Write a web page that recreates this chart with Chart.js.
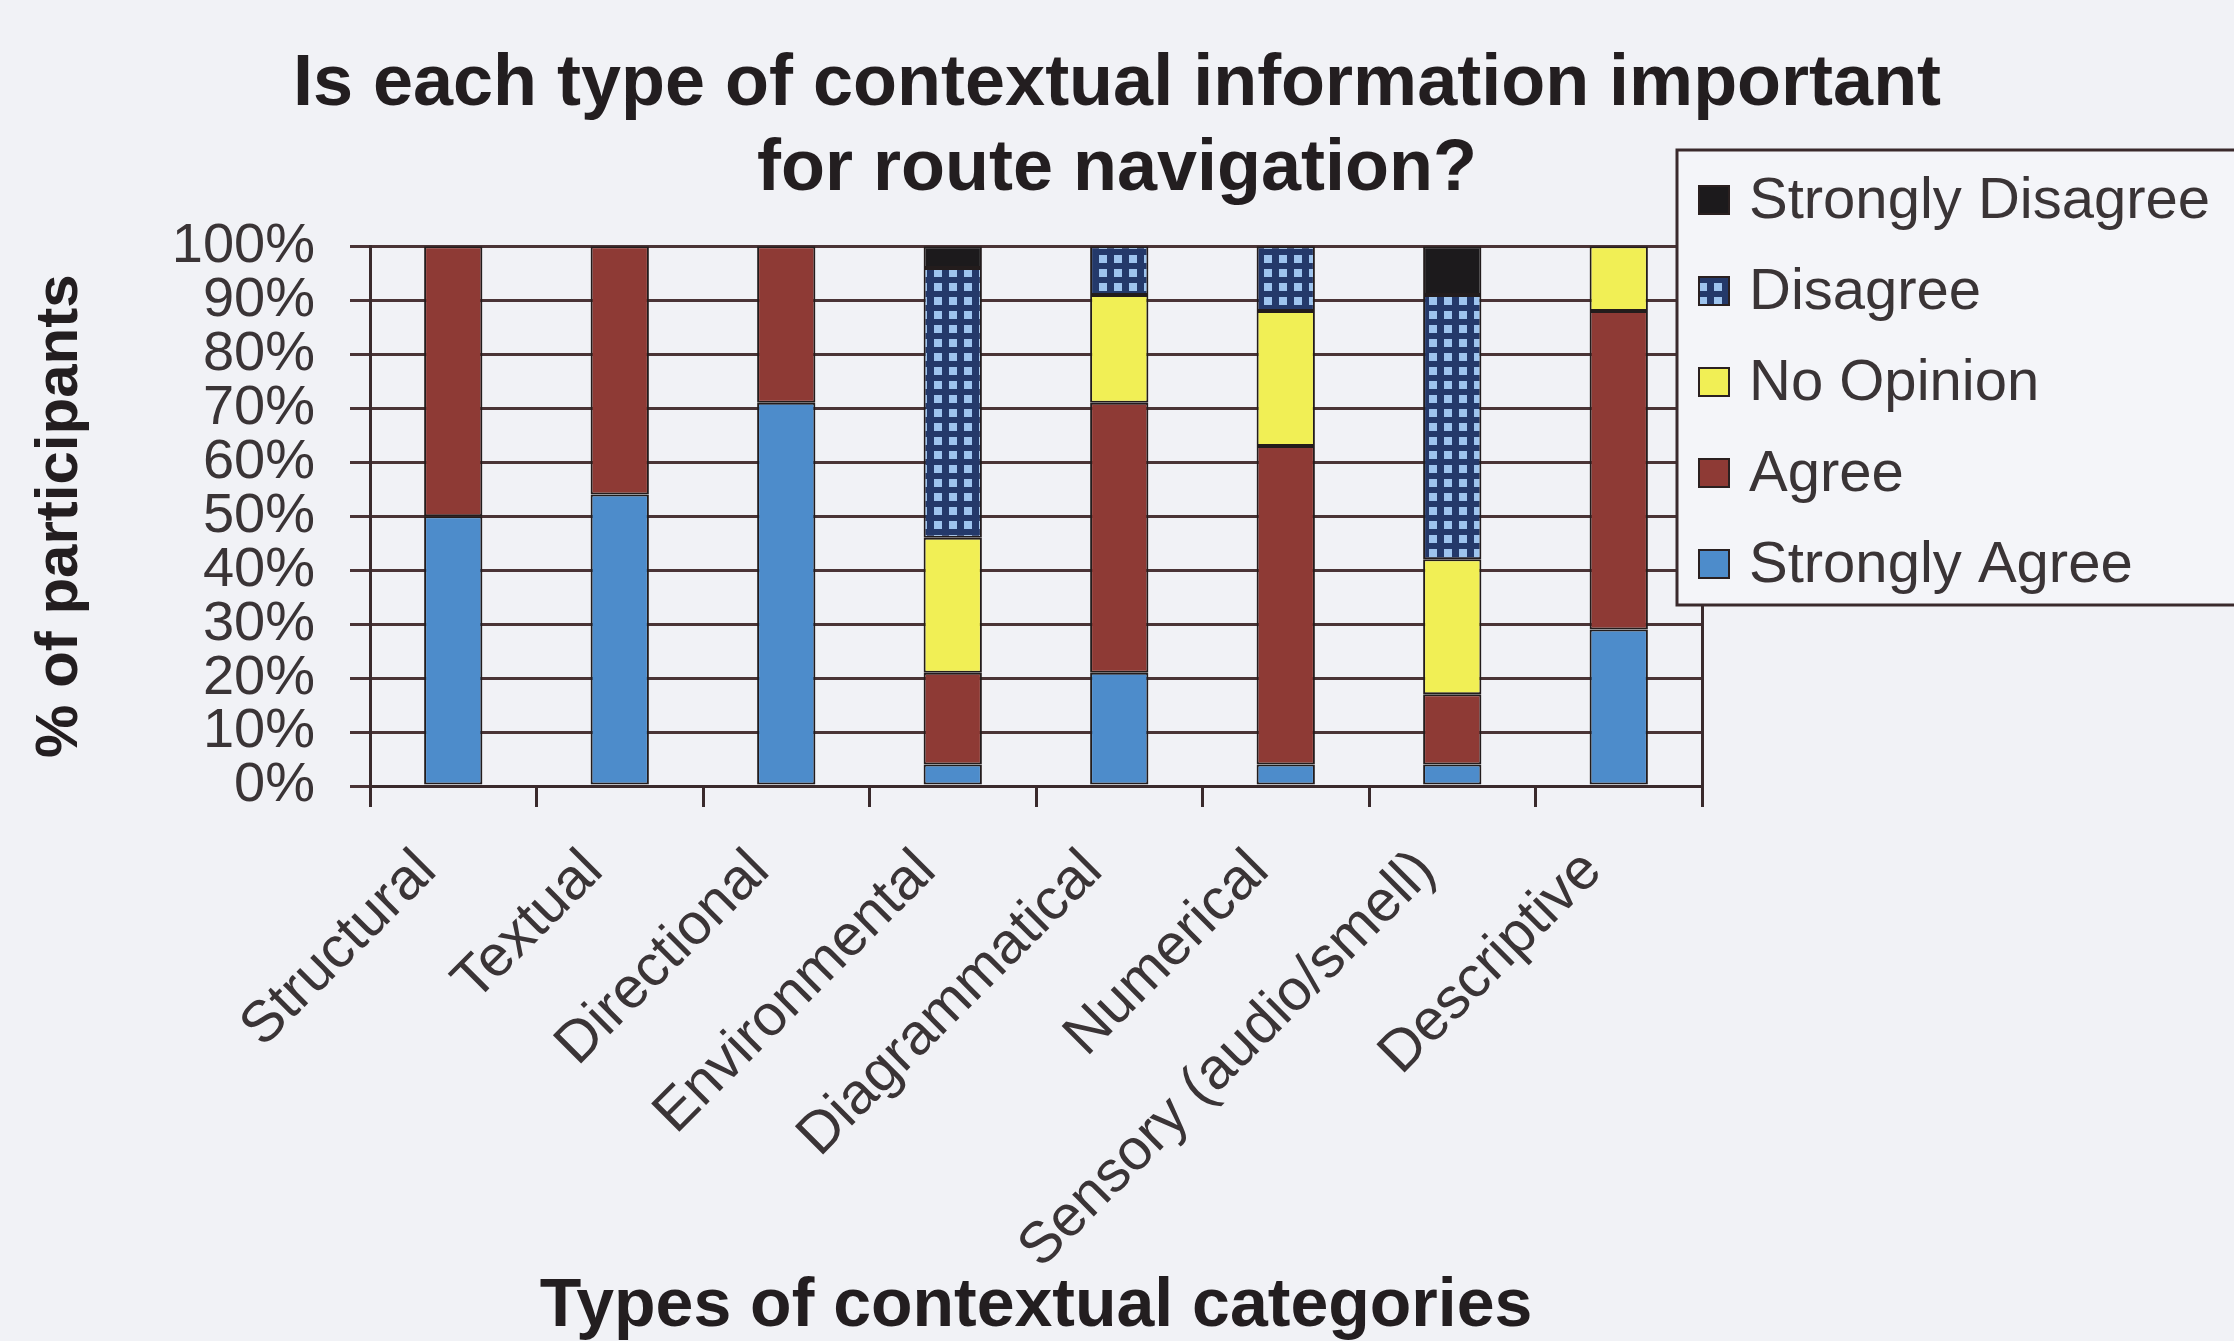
<!DOCTYPE html>
<html>
<head>
<meta charset="utf-8">
<script src="https://cdn.jsdelivr.net/npm/chart.js@4/dist/chart.umd.min.js"></script>
<style>
    html, body { margin: 0; padding: 0; background: #f1f2f6; }
    #wrap { width: 2234px; height: 1341px; }
</style>
</head>
<body>
<div id="wrap"><canvas id="surveyChart" width="2234" height="1341"></canvas></div>
<script>
// Categories on the x axis
const categories = ["Structural", "Textual", "Directional", "Environmental",
    "Diagrammatical", "Numerical", "Sensory (audio/smell)", "Descriptive"];

// Percent of participants per answer (bottom to top of each stack)
const stronglyAgree    = [50, 54, 71, 4, 21, 4, 4, 29];
const agree            = [50, 46, 29, 17, 50, 59, 13, 59];
const noOpinion        = [0, 0, 0, 25, 20, 25, 25, 12];
const disagree         = [0, 0, 0, 50, 9, 12, 49, 0];
const stronglyDisagree = [0, 0, 0, 4, 0, 0, 9, 0];

const yTicks = [0, 10, 20, 30, 40, 50, 60, 70, 80, 90, 100];

const FONT = "'Liberation Sans', Arial, sans-serif";

// Checkered blue fill used by "Disagree"
function makeGridPattern() {
    const c = document.createElement("canvas");
    c.width = 15;
    c.height = 14;
    const g = c.getContext("2d");
    g.fillStyle = "#24396a";
    g.fillRect(0, 0, 15, 14);
    g.fillStyle = "#9ec4ee";
    g.fillRect(4, 3, 8, 8);
    return document.getElementById("surveyChart").getContext("2d").createPattern(c, "repeat");
}
const disagreeFill = makeGridPattern();

const series = [
    { label: "Strongly Agree", data: stronglyAgree, color: "#4d8ccb" },
    { label: "Agree", data: agree, color: "#8e3a35" },
    { label: "No Opinion", data: noOpinion, color: "#f1ef55" },
    { label: "Disagree", data: disagree, color: disagreeFill },
    { label: "Strongly Disagree", data: stronglyDisagree, color: "#1c1a1c" }
];

// Boxed legend drawn at the top right, overlapping the plot edge like the original
const boxLegend = {
    id: "boxLegend",
    afterDraw(chart) {
        const ctx = chart.ctx;
        const left = chart.chartArea.right - 25;
        const top = 150;
        ctx.save();
        ctx.fillStyle = "#f4f5f9";
        ctx.fillRect(left, top, 600, 455);
        ctx.strokeStyle = "#3a2a2c";
        ctx.lineWidth = 3;
        ctx.strokeRect(left, top, 600, 455);
        ctx.font = "58px " + FONT;
        ctx.textBaseline = "middle";
        const items = chart.data.datasets.slice().reverse();
        items.forEach((ds, i) => {
            const y = top + 50 + i * 91;
            ctx.fillStyle = ds.backgroundColor;
            ctx.fillRect(left + 22, y - 14, 30, 28);
            ctx.strokeStyle = "#2a2020";
            ctx.lineWidth = 2;
            ctx.strokeRect(left + 22, y - 14, 30, 28);
            ctx.fillStyle = "#3a3436";
            ctx.fillText(ds.label, left + 72, y + 2);
        });
        ctx.restore();
    }
};

new Chart(document.getElementById("surveyChart"), {
    type: "bar",
    data: {
        labels: categories,
        datasets: series.map(s => ({
            label: s.label,
            data: s.data,
            backgroundColor: s.color,
            borderColor: "#231c1c",
            borderWidth: 2,
            borderSkipped: false,
            categoryPercentage: 1,
            barPercentage: 0.35
        }))
    },
    options: {
        responsive: false,
        animation: false,
        layout: { padding: 0 },
        plugins: {
            legend: { display: false },
            tooltip: { enabled: false },
            title: {
                display: true,
                text: ["Is each type of contextual information important", "for route navigation?"],
                font: { family: FONT, size: 72, weight: "bold", lineHeight: 1.19 },
                color: "#231e20",
                padding: { top: 42, bottom: 33 }
            }
        },
        scales: {
            x: {
                stacked: true,
                afterFit(scale) { scale.height = 555; },
                grid: { offset: true, drawOnChartArea: false, drawTicks: true, tickLength: 21, color: "#3a2a2c", lineWidth: 3 },
                border: { display: true, color: "#3a2a2c", width: 3 },
                ticks: {
                    minRotation: 45, maxRotation: 45, autoSkip: false, padding: 30, labelOffset: -26,
                    color: "#3a3436", font: { family: FONT, size: 58 }
                },
                title: {
                    display: true,
                    text: "Types of contextual categories",
                    color: "#231e20",
                    font: { family: FONT, size: 68, weight: "bold", lineHeight: 1.0 },
                    padding: { top: 0, bottom: 0 }
                }
            },
            y: {
                stacked: true,
                min: 0,
                max: 100,
                afterFit(scale) { scale.width = 370; },
                afterBuildTicks(scale) { scale.ticks = yTicks.map(v => ({ value: v })); },
                grid: { color: "#4a3436", lineWidth: 3, tickLength: 20 },
                border: { display: true, color: "#3a2a2c", width: 3 },
                ticks: {
                    autoSkip: false, padding: 35, color: "#3a3436",
                    font: { family: FONT, size: 56 },
                    callback: v => v + "%"
                },
                title: {
                    display: true,
                    text: "% of participants",
                    color: "#231e20",
                    font: { family: FONT, size: 60, weight: "bold", lineHeight: 1.0 },
                    padding: { top: 30, bottom: 0 }
                }
            },
            right: {
                position: "right",
                display: true,
                afterFit(scale) { scale.width = 532; },
                grid: { display: false },
                ticks: { display: false },
                border: { display: true, color: "#3a2a2c", width: 3 }
            }
        }
    },
    plugins: [boxLegend]
});
</script>
</body>
</html>
